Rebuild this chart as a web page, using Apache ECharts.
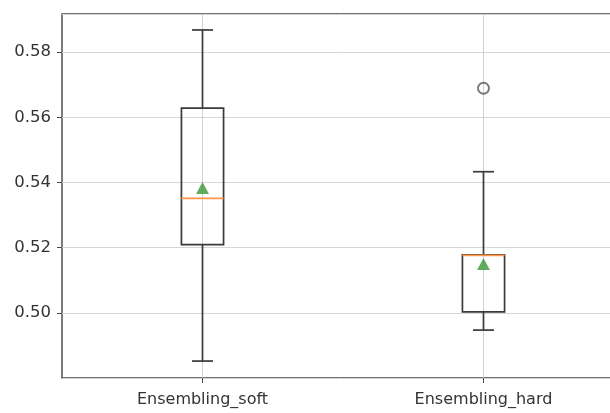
<!DOCTYPE html>
<html><head><meta charset="utf-8">
<script src="https://cdn.jsdelivr.net/npm/echarts@6/dist/echarts.min.js"></script>
<style>html,body{margin:0;padding:0;background:#fff}#c{width:610px;height:413px}</style>
</head><body><div id="c"></div>
<script>
var categories = ['Ensembling_soft', 'Ensembling_hard'];
var whiskerLow = [0.4852, 0.4947];
var q1 = [0.5209, 0.5003];
var median = [0.5351, 0.5176];
var q3 = [0.5628, 0.5178];
var whiskerHigh = [0.5868, 0.5433];
var means = [0.5383, 0.5150];
var outliers = [[1, 0.5689]];
var yTicks = [0.50, 0.52, 0.54, 0.56, 0.58];

var boxData = categories.map(function (c, i) {
  return [i, whiskerLow[i], q1[i], median[i], q3[i], whiskerHigh[i]];
});
var meanData = categories.map(function (c, i) { return [i, means[i]]; });

var LINE = '#3a3a3a';
var chart = echarts.init(document.getElementById('c'));
chart.setOption({
  animation: false,
  textStyle: { fontFamily: 'DejaVu Sans' },
  grid: { left: 62, top: 14, width: 562, height: 364, outerBoundsMode: 'none', containLabel: false, show: true, borderColor: '#444', borderWidth: 1.4, backgroundColor: 'transparent' },
  xAxis: {
    type: 'category', data: categories, boundaryGap: true,
    axisLine: { show: false },
    axisTick: { show: true, alignWithLabel: true, length: 5, lineStyle: { color: '#444' } },
    axisLabel: { color: '#333', fontSize: 16, margin: 14, fontFamily: 'DejaVu Sans' },
    splitLine: { show: false }
  },
  yAxis: {
    type: 'value', min: 0.48, max: 0.5917, interval: 0.02,
    axisLine: { show: false },
    axisTick: { show: true, length: 5, lineStyle: { color: '#444' } },
    axisLabel: {
      color: '#333', fontSize: 16.5, margin: 11, fontFamily: 'DejaVu Sans',
      showMinLabel: false, showMaxLabel: false,
      formatter: function (v) {
        for (var k = 0; k < yTicks.length; k++) if (Math.abs(v - yTicks[k]) < 1e-6) return yTicks[k].toFixed(2);
        return '';
      }
    },
    splitLine: { show: true, lineStyle: { color: '#d6d6d6', width: 1 } }
  },
  series: [
    {
      type: 'custom', z: 3,
      data: boxData,
      encode: { x: 0, y: [1, 2, 3, 4, 5] },
      renderItem: function (params, api) {
        var idx = api.value(0);
        var band = api.size([1, 0])[0];
        var hw = band * 0.15 / 2, cw = hw / 2;
        var pLo = api.coord([idx, api.value(1)]);
        var pQ1 = api.coord([idx, api.value(2)]);
        var pMd = api.coord([idx, api.value(3)]);
        var pQ3 = api.coord([idx, api.value(4)]);
        var pHi = api.coord([idx, api.value(5)]);
        var x = pQ1[0];
        var ls = { stroke: LINE, lineWidth: 1.7, fill: null };
        return {
          type: 'group', children: [
            { type: 'line', shape: { x1: x, y1: pLo[1], x2: x, y2: pQ1[1] }, style: ls },
            { type: 'line', shape: { x1: x, y1: pQ3[1], x2: x, y2: pHi[1] }, style: ls },
            { type: 'line', shape: { x1: x - cw, y1: pLo[1], x2: x + cw, y2: pLo[1] }, style: ls },
            { type: 'line', shape: { x1: x - cw, y1: pHi[1], x2: x + cw, y2: pHi[1] }, style: ls },
            { type: 'rect', shape: { x: x - hw, y: pQ3[1], width: 2 * hw, height: pQ1[1] - pQ3[1] }, style: ls },
            { type: 'line', shape: { x1: x - hw, y1: pMd[1], x2: x + hw, y2: pMd[1] }, style: { stroke: '#ff9448', lineWidth: 1.8 } }
          ]
        };
      },
      markLine: {
        silent: true, symbol: 'none', label: { show: false }, z: 1,
        lineStyle: { color: '#d0d0d0', width: 1, type: 'solid' },
        data: categories.map(function (c) { return { xAxis: c }; })
      }
    },
    {
      type: 'scatter', z: 5, data: meanData, symbol: 'triangle', symbolSize: [13, 12],
      itemStyle: { color: '#3a9a3a' }
    },
    {
      type: 'scatter', z: 5, data: outliers, symbol: 'circle', symbolSize: 11,
      itemStyle: { color: 'transparent', borderColor: '#555', borderWidth: 1.9 }
    }
  ]
});
</script></body></html>
